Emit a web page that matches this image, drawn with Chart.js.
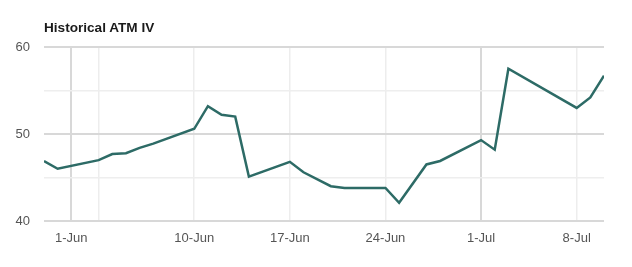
<!DOCTYPE html>
<html>
<head>
<meta charset="utf-8">
<script src="https://cdn.jsdelivr.net/npm/chart.js@4"></script>
<style>
  body { margin: 0; background: #fff; }
  #wrap { position: relative; width: 632px; height: 267px; }
  #title {
    position: absolute; left: 44px; top: 20px;
    font: bold 13.6px "Liberation Sans", Arial, sans-serif; color: #1a1a1a;
  }
</style>
</head>
<body>
<div id="wrap">
  <div id="title">Historical ATM IV</div>
  <canvas id="ivChart" width="632" height="267"></canvas>
</div>
<script>
// days counted from 1-Jun (May 30 = -2, Jul 10 = 39)
const dayOffsets = [-2, -1, 2, 3, 4, 5, 6, 9, 10, 11, 12, 13, 16, 17, 19, 20, 23, 24, 26, 27, 30, 31, 32, 37, 38, 39];
const ivValues = [46.9, 46.0, 47.0, 47.7, 47.8, 48.4, 48.9, 50.6, 53.2, 52.2, 52.0, 45.1, 46.8, 45.6, 44.0, 43.8, 43.8, 42.1, 46.5, 46.9, 49.3, 48.2, 57.5, 53.0, 54.2, 56.7];

// week lines (Mondays) plus month start
const tickDays = [0, 2, 9, 16, 23, 30, 37];
const tickLabels = ['1-Jun', '', '10-Jun', '17-Jun', '24-Jun', '1-Jul', '8-Jul'];
const monthStarts = [0, 30];

const points = dayOffsets.map((d, i) => ({ x: d, y: ivValues[i] }));
const font = { family: '"Liberation Sans", Arial, sans-serif', size: 13 };

new Chart(document.getElementById('ivChart'), {
  type: 'line',
  data: {
    datasets: [{
      data: points,
      borderColor: '#2d6b66',
      borderWidth: 2.5,
      pointRadius: 0,
      tension: 0,
      fill: false
    }]
  },
  options: {
    responsive: false,
    animation: false,
    layout: { padding: { top: 47, right: 28, left: 0, bottom: 0 } },
    plugins: { legend: { display: false }, tooltip: { enabled: false } },
    scales: {
      x: {
        type: 'linear',
        min: -2,
        max: 39,
        afterBuildTicks: (scale) => {
          scale.ticks = tickDays.map(v => ({ value: v }));
        },
        afterFit: (scale) => { scale.height = 46; },
        border: { display: false },
        grid: {
          drawTicks: false,
          color: (ctx) => monthStarts.includes(ctx.tick && ctx.tick.value) ? '#d8d8d8' : '#ededed',
          lineWidth: (ctx) => monthStarts.includes(ctx.tick && ctx.tick.value) ? 2 : 1.5
        },
        ticks: {
          autoSkip: false,
          maxRotation: 0,
          padding: 10,
          color: '#555',
          font: font,
          callback: (value, index) => tickLabels[index]
        }
      },
      y: {
        min: 40,
        max: 60,
        afterFit: (scale) => { scale.width = 44; },
        border: { display: false },
        grid: {
          drawTicks: false,
          color: (ctx) => (ctx.tick && ctx.tick.value % 10 === 0) ? '#d8d8d8' : '#eeeeee',
          lineWidth: (ctx) => (ctx.tick && ctx.tick.value % 10 === 0) ? 2 : 1.5
        },
        ticks: {
          stepSize: 5,
          padding: 14,
          color: '#555',
          font: font,
          callback: (value) => value % 10 === 0 ? value : ''
        }
      }
    }
  }
});
</script>
</body>
</html>
